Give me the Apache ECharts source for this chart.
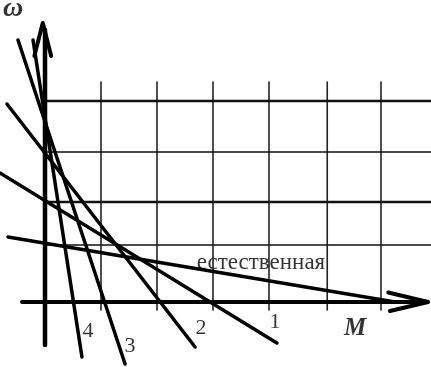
<!DOCTYPE html>
<html>
<head>
<meta charset="utf-8">
<script src="https://cdn.jsdelivr.net/npm/echarts@6/dist/echarts.min.js"></script>
<style>
html,body{margin:0;padding:0;background:#fff;}
#c{width:431px;height:367px;}
</style>
</head>
<body>
<div id="c"></div>
<script>
// Characteristic lines, in grid-cell units [M, ω]
var natural = [[-0.661, 1.30], [6.25, 0.0]];
var line1 = [[-0.804, 2.58], [4.14, -0.82]];
var line2 = [[-0.679, 3.96], [2.68, -0.90]];
var line3 = [[-0.482, 5.24], [1.43, -1.24]];
var line4 = [[-0.214, 5.24], [0.66, -1.10]];

// Grid line positions
var gridX = [1, 2, 3, 4, 5.04, 6.0];
var gridY = [4.02, 3.0, 2.0, 1.14];

// Text labels
var labelTexts = ['4', '3', '2', '1', 'естественная'];
var labelPos = [[0.768, -0.58], [1.518, -0.88], [2.786, -0.52], [4.107, -0.40], [3.857, 0.78]];
var axisNames = ['ω', 'M'];
var axisNamePos = [[-0.571, 5.86], [5.536, -0.54]];

var series = [];
function seg(data, w, color) {
  series.push({
    type: 'line', data: data, symbol: 'none', silent: true, animation: false,
    lineStyle: {color: color || '#000', width: w, cap: 'round', join: 'round'}
  });
}
gridX.forEach(function (x) { seg([[x, 4.4], [x, -0.16]], 1.6, '#222'); });
gridY.forEach(function (y, i) { seg([[0, y], [6.95, y]], (i % 2 === 0) ? 2.6 : 1.6, '#111'); });
// axes
seg([[-0.41, 0], [6.79, 0]], 4);
seg([[0, -0.86], [0, 5.44]], 4.5);
// arrows
seg([[6.13, 0.19], [6.84, 0], [6.16, -0.18]], 4);
seg([[-0.19, 4.92], [-0.04, 5.58], [0.11, 4.92]], 4);
// characteristics
[natural, line1, line2, line3, line4].forEach(function (d) { seg(d, 3.5); });

series.push({
  type: 'scatter', symbolSize: 0, silent: true, animation: false,
  data: labelPos.map(function (p, i) { return {value: p, name: labelTexts[i]}; }),
  label: {show: true, position: 'inside', formatter: '{b}', color: '#000',
    fontFamily: 'Liberation Serif', fontSize: 22},
  labelLayout: {hideOverlap: false}
});
series[series.length - 1].data[4].label = {fontSize: 23};
series.push({
  type: 'scatter', symbolSize: 0, silent: true, animation: false,
  data: axisNamePos.map(function (p, i) { return {value: p, name: axisNames[i]}; }),
  label: {show: true, position: 'inside', formatter: '{b}', color: '#000',
    fontFamily: 'Liberation Serif', fontSize: 25, fontWeight: 'bold', fontStyle: 'italic'}
});
series[series.length - 1].data[0].label = {fontSize: 28};

var chart = echarts.init(document.getElementById('c'), null, {renderer: 'canvas'});
chart.setOption({
  animation: false,
  backgroundColor: '#fff',
  grid: {left: 0, right: 0, top: 0, bottom: 0},
  xAxis: {type: 'value', min: -45 / 56, max: 386 / 56, show: false},
  yAxis: {type: 'value', min: -1.3, max: 6.04, show: false},
  series: series
});
</script>
</body>
</html>
